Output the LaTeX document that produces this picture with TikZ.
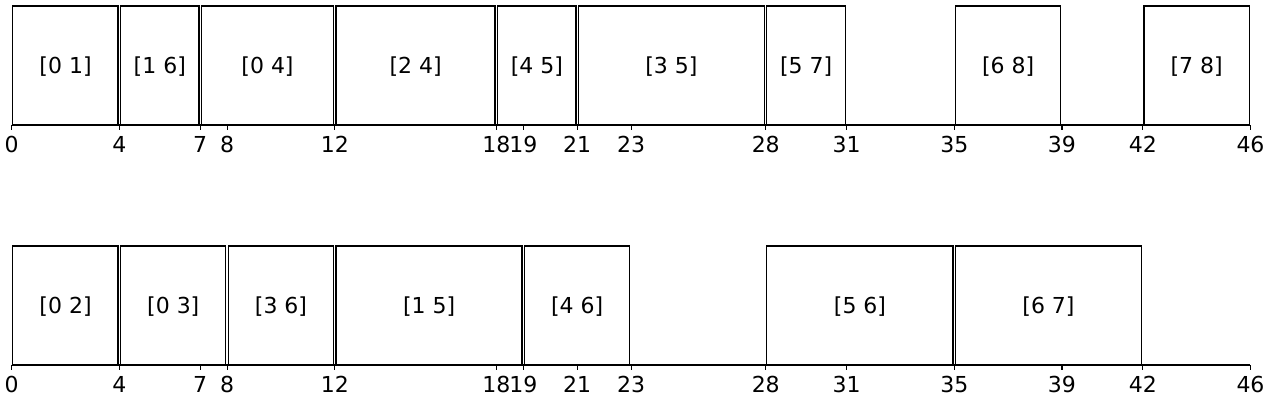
\documentclass[tikz,border=0pt]{standalone}
\usepackage{fontspec}
\setmainfont{DejaVu Sans}
\begin{document}
\begin{tikzpicture}[x=1pt,y=-1pt,
  bar/.style={draw=black,line width=1.3pt,fill=white},
  lbl/.style={font=\fontsize{22}{26}\selectfont,inner sep=0pt,anchor=base},
  axisline/.style={draw=black,line width=1.2pt},
  tickmark/.style={draw=black,line width=1.1pt}]
\useasboundingbox (0,0) rectangle (1276,408);
\begin{scope}[shift={(11.7,0)},x=26.93pt]
  % top row
  \foreach \s/\e/\t [count=\i] in {0/4/{[0 1]},4/7/{[1 6]},7/12/{[0 4]},12/18/{[2 4]},18/21/{[4 5]},21/28/{[3 5]},28/31/{[5 7]},35/39/{[6 8]},42/46/{[7 8]}}{
    \path[bar] ({\s+0.04},6) rectangle ({\e-0.05},125);
    \node[lbl] (ta\i) at ({(\s+\e)/2},73.3) {\t};
  }
  % bottom row
  \foreach \s/\e/\t [count=\i] in {0/4/{[0 2]},4/8/{[0 3]},8/12/{[3 6]},12/19/{[1 5]},19/23/{[4 6]},28/35/{[5 6]},35/42/{[6 7]}}{
    \path[bar] ({\s+0.04},246) rectangle ({\e-0.05},365);
    \node[lbl] (tb\i) at ({(\s+\e)/2},313.3) {\t};
  }
  % axes
  \coordinate (axA0) at (0,125);
  \coordinate (axA1) at (46,125);
  \coordinate (axB0) at (0,365);
  \coordinate (axB1) at (46,365);
  \draw[axisline] (axA0) -- (axA1);
  \draw[axisline] (axB0) -- (axB1);
  \foreach \v in {0,4,7,8,12,18,19,21,23,28,31,35,39,42,46}{
    \coordinate (ka\v) at (\v,125);
    \coordinate (kae\v) at (\v,129.5);
    \draw[tickmark] (ka\v) -- (kae\v);
    \node[lbl] (la\v) at (\v,152.7) {\v};
    \coordinate (kb\v) at (\v,365);
    \coordinate (kbe\v) at (\v,369.5);
    \draw[tickmark] (kb\v) -- (kbe\v);
    \node[lbl] (lb\v) at (\v,392.7) {\v};
  }
\end{scope}
\end{tikzpicture}
\end{document}
